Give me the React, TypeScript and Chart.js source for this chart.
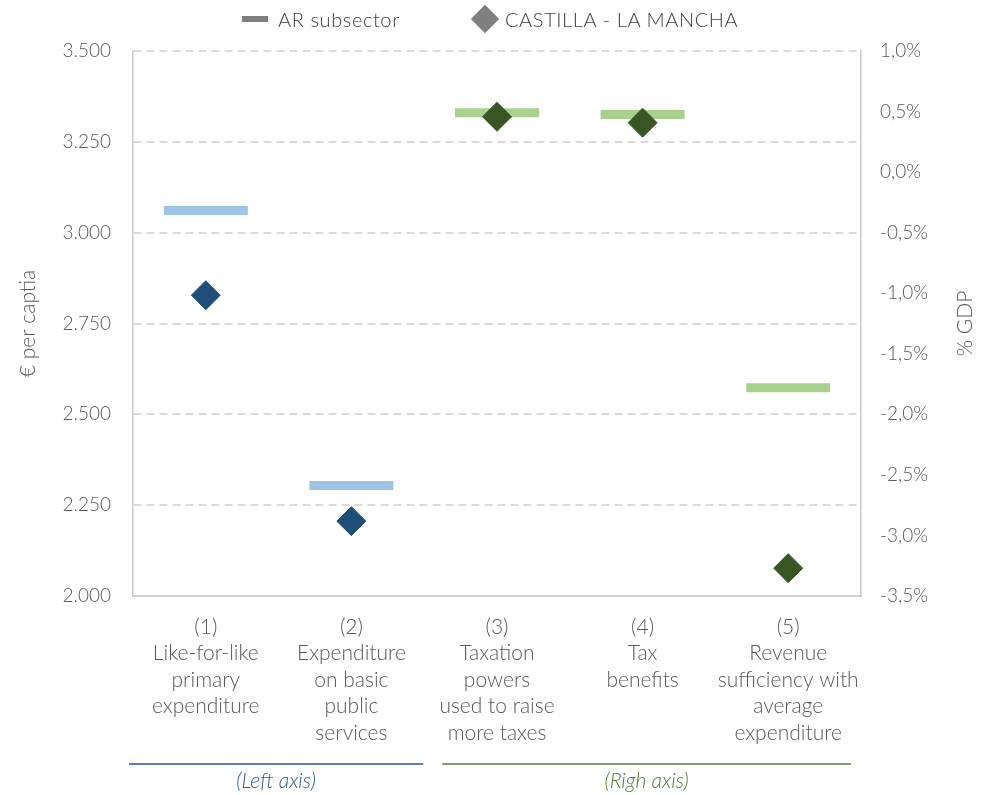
import React, { useEffect, useRef } from 'react';
import { Chart, registerables } from 'chart.js';

Chart.register(...registerables);

const categories: string[][] = [
  ['(1)', 'Like-for-like', 'primary', 'expenditure'],
  ['(2)', 'Expenditure', 'on basic', 'public', 'services'],
  ['(3)', 'Taxation', 'powers', 'used to raise', 'more taxes'],
  ['(4)', 'Tax', 'benefits'],
  ['(5)', 'Revenue', 'sufficiency with', 'average', 'expenditure'],
];
const seriesNames = ['AR subsector', 'CASTILLA - LA MANCHA'];
const arLeft = [3061, 2304, null, null, null];
const clmLeft = [2828, 2206, null, null, null];
const arRight = [null, null, 0.49, 0.476, -1.78];
const clmRight = [null, null, 0.457, 0.408, -3.27];
const leftAxis = { min: 2000, max: 3500, step: 250, title: '€ per captia' };
const rightAxis = { min: -3.5, max: 1.0, step: 0.5, title: '% GDP' };
const groupLabels = ['(Left axis)', '(Righ axis)'];

const FONT = 'Lato';
const TXT = '#595959';

const fmtLeft = (v: number) => {
  const s = Math.round(v).toString();
  return s.length > 3 ? s.slice(0, s.length - 3) + '.' + s.slice(s.length - 3) : s;
};
const fmtRight = (v: number) => (Math.round(v * 10) / 10).toFixed(1).replace('.', ',') + '%';

const extrasPlugin = {
  id: 'extras',
  afterDraw(chart: any) {
    const { ctx, scales, chartArea } = chart;
    const x = scales.x;
    const y1 = scales.y1;
    const half = (x.getPixelForValue(1) - x.getPixelForValue(0)) / 2;
    const lineY = 764;
    const textY = 781;
    const groups = [
      { from: x.getPixelForValue(0) - half - 4, to: x.getPixelForValue(1) + half - 1, line: '#2F5597', text: '#2E5D8C', label: groupLabels[0] },
      { from: x.getPixelForValue(2) - half + 18, to: x.getPixelForValue(4) + half - 10, line: '#548235', text: '#4E7A30', label: groupLabels[1] },
    ];
    ctx.save();
    groups.forEach((g) => {
      ctx.strokeStyle = g.line;
      ctx.lineWidth = 1.5;
      ctx.beginPath();
      ctx.moveTo(g.from, lineY);
      ctx.lineTo(g.to, lineY);
      ctx.stroke();
      ctx.fillStyle = g.text;
      ctx.font = `italic 300 21px ${FONT}`;
      ctx.textAlign = 'center';
      ctx.textBaseline = 'middle';
      ctx.fillText(g.label, (g.from + g.to) / 2, textY);
    });
    ctx.translate(y1.right - 17, (chartArea.top + chartArea.bottom) / 2);
    ctx.rotate(-Math.PI / 2);
    ctx.font = `300 21px ${FONT}`;
    ctx.fillStyle = TXT;
    ctx.textAlign = 'center';
    ctx.textBaseline = 'middle';
    ctx.fillText(rightAxis.title, 0, 0);
    ctx.restore();
  },
};

export default function App() {
  const ref = useRef<HTMLCanvasElement>(null);
  useEffect(() => {
    document.body.style.margin = '0';
    const pt = (style: string, radius: number, color: string, bw: number, order: number) => ({
      showLine: false,
      pointStyle: style,
      pointRadius: radius,
      pointHoverRadius: radius,
      pointBackgroundColor: color,
      pointBorderColor: color,
      pointBorderWidth: bw,
      backgroundColor: color,
      borderColor: color,
      order,
    });
    const chart = new Chart(ref.current as HTMLCanvasElement, {
      type: 'line',
      data: {
        labels: categories,
        datasets: [
          { label: seriesNames[0], data: arLeft, yAxisID: 'y', ...pt('line', 42, '#9DC3E6', 9, 2) },
          { label: seriesNames[0], data: arRight, yAxisID: 'y1', ...pt('line', 42, '#A9D18E', 9, 2) },
          { label: seriesNames[1], data: clmLeft, yAxisID: 'y', ...pt('rectRot', 14.5, '#1F4E79', 1, 1) },
          { label: seriesNames[1], data: clmRight, yAxisID: 'y1', ...pt('rectRot', 14.5, '#375623', 1, 1) },
        ],
      } as any,
      options: {
        animation: false,
        responsive: false,
        maintainAspectRatio: false,
        layout: { padding: { top: 49, left: 0, right: 0, bottom: 0 } },
        plugins: { legend: { display: false }, tooltip: { enabled: false } },
        scales: {
          x: {
            offset: true,
            grid: { display: false, drawTicks: false },
            border: { display: true, color: '#d0d0d0', width: 2 },
            ticks: {
              color: TXT,
              padding: 18,
              maxRotation: 0,
              autoSkip: false,
              font: { family: FONT, size: 21, weight: '300' as any, lineHeight: 1.26 },
            },
            afterFit: (s: any) => { s.height = 199; },
          },
          y: {
            position: 'left',
            min: leftAxis.min,
            max: leftAxis.max,
            grid: {
              drawTicks: false,
              lineWidth: 2,
              color: (c: any) => (c.tick && c.tick.value === leftAxis.min ? 'rgba(0,0,0,0)' : '#d9d9d9'),
            },
            border: { display: true, color: '#cccccc', width: 1.5, dash: [8, 5] },
            ticks: {
              stepSize: leftAxis.step,
              padding: 22,
              color: TXT,
              font: { family: FONT, size: 19, weight: '300' as any },
              callback: (v: any) => fmtLeft(Number(v)),
            },
            title: {
              display: true,
              text: leftAxis.title,
              color: TXT,
              padding: { top: 16, bottom: 0 },
              font: { family: FONT, size: 21, weight: '300' as any },
            },
            afterFit: (s: any) => { s.width = 133; },
          },
          y1: {
            position: 'right',
            min: rightAxis.min,
            max: rightAxis.max,
            grid: { display: false, drawTicks: false },
            border: { display: true, color: '#cccccc', width: 1.5 },
            ticks: {
              stepSize: rightAxis.step,
              padding: 19,
              color: TXT,
              font: { family: FONT, size: 19, weight: '300' as any },
              callback: (v: any) => fmtRight(Number(v)),
            },
            afterFit: (s: any) => { s.width = 121; },
          },
        },
      } as any,
      plugins: [extrasPlugin],
    });
    return () => chart.destroy();
  }, []);

  const legendText: React.CSSProperties = {
    position: 'absolute',
    top: 19,
    transform: 'translateY(-50%)',
    fontFamily: FONT,
    fontWeight: 300,
    fontSize: 20,
    letterSpacing: '0.6px',
    color: '#404040',
    whiteSpace: 'nowrap',
    lineHeight: '24px',
  };

  return (
    <div style={{ position: 'relative', width: 982, height: 795 }}>
      <canvas ref={ref} width={982} height={795} style={{ display: 'block' }} />
      <div style={{ position: 'absolute', left: 242, top: 16, width: 26, height: 6, background: '#7f7f7f' }} />
      <div style={{ ...legendText, left: 278 }}>{seriesNames[0]}</div>
      <div style={{ position: 'absolute', left: 475, top: 9, width: 20, height: 20, background: '#7f7f7f', transform: 'rotate(45deg)' }} />
      <div style={{ ...legendText, left: 505 }}>{seriesNames[1]}</div>
    </div>
  );
}
